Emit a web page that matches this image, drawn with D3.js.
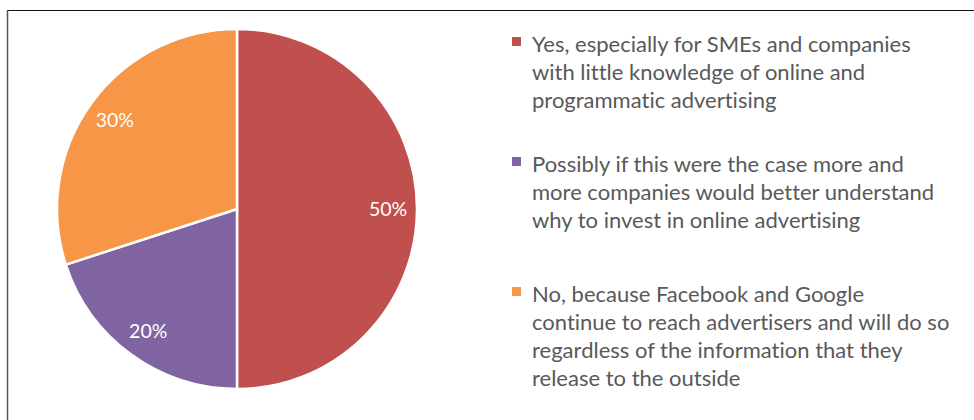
<!DOCTYPE html>
<html>
<head>
<meta charset="utf-8">
<script src="https://cdn.jsdelivr.net/npm/d3@7/dist/d3.min.js"></script>
<style>
  html, body { margin: 0; padding: 0; background: #fff; }
  svg { display: block; }
  text { font-variant-ligatures: none; font-feature-settings: "liga" 0; }
</style>
</head>
<body>
<svg id="chart" width="974" height="420"></svg>
<script>
// Survey answers and their shares (%)
const categories = [
  "Yes, especially for SMEs and companies with little knowledge of online and programmatic advertising",
  "Possibly if this were the case more and more companies would better understand why to invest in online advertising",
  "No, because Facebook and Google continue to reach advertisers and will do so regardless of the information that they release to the outside"
];
const values = [50, 20, 30];
// Legend text broken into lines as displayed
const legendLines = [
  ["Yes, especially for SMEs and companies", "with little knowledge of online and", "programmatic advertising"],
  ["Possibly if this were the case more and", "more companies would better understand", "why to invest in online advertising"],
  ["No, because Facebook and Google", "continue to reach advertisers and will do so", "regardless of the information that they", "release to the outside"]
];
const colors = ["#C0504D", "#8064A2", "#F79646"];

const svg = d3.select("#chart");
const FONT = "Lato, 'Open Sans', sans-serif";

// Frame
svg.append("line").attr("x1", 7).attr("x2", 974).attr("y1", 10.5).attr("y2", 10.5)
  .attr("stroke", "#111").attr("stroke-width", 1.2);
svg.append("line").attr("x1", 7.5).attr("x2", 7.5).attr("y1", 10).attr("y2", 420)
  .attr("stroke", "#555").attr("stroke-width", 1.5);

// Pie
const cx = 237, cy = 209, R = 180;
const data = categories.map((c, i) => ({ category: c, value: values[i], color: colors[i] }));
const pie = d3.pie().value(d => d.value).sort(null);
const arcs = pie(data);
const arc = d3.arc().innerRadius(0).outerRadius(R);
const labelArc = d3.arc().innerRadius(151).outerRadius(151);

const g = svg.append("g").attr("transform", `translate(${cx},${cy})`);
g.selectAll("path.slice").data(arcs).join("path")
  .attr("class", "slice")
  .attr("d", arc)
  .attr("fill", d => d.data.color)
  .attr("stroke", "#fff")
  .attr("stroke-width", 2.5)
  .attr("stroke-linejoin", "round");

g.selectAll("text.lbl").data(arcs).join("text")
  .attr("class", "lbl")
  .attr("transform", d => `translate(${labelArc.centroid(d)})`)
  .attr("text-anchor", "middle")
  .attr("dy", "0.35em")
  .attr("font-family", FONT)
  .attr("font-size", 19.5)
  .attr("fill", "#fff")
  .text(d => d.data.value + "%");

// Legend
const legendX = 512, textX = 532, lineH = 28;
const entryTop = [52, 172, 302];
const legend = svg.append("g");
legendLines.forEach((lines, i) => {
  const y0 = entryTop[i];
  legend.append("rect")
    .attr("x", legendX).attr("y", y0 - 15).attr("width", 9).attr("height", 9)
    .attr("fill", colors[i]);
  const t = legend.append("text")
    .attr("font-family", FONT).attr("font-size", 22).attr("fill", "#595959");
  lines.forEach((ln, j) => {
    t.append("tspan").attr("x", textX).attr("y", y0 + j * lineH).text(ln);
  });
});
</script>
</body>
</html>
